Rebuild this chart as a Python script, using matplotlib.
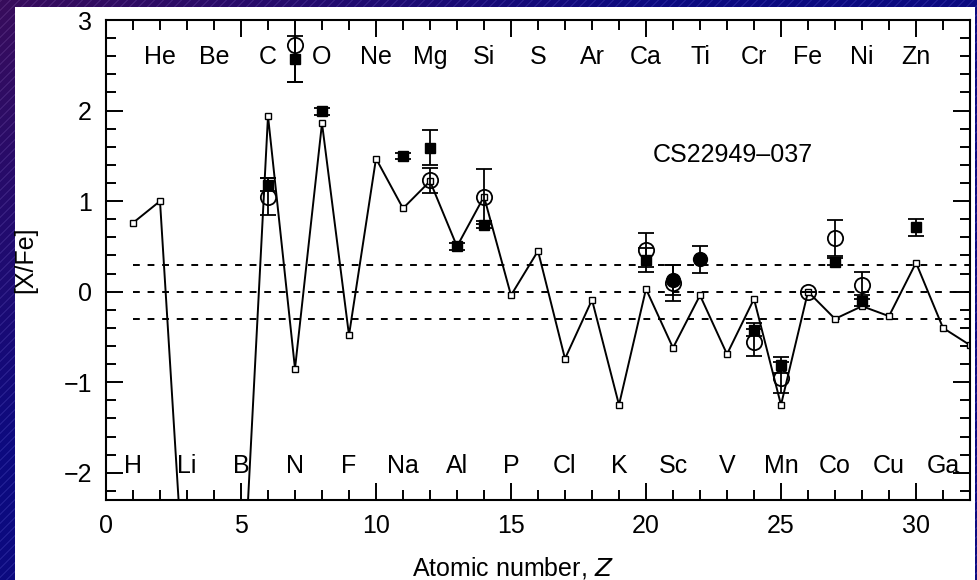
import numpy as np
import matplotlib.pyplot as plt

plt.rcParams['font.family'] = ['Liberation Sans', 'DejaVu Sans']

# model yields, Z = 1..32
model_z = list(range(1, 33))
model_xfe = [0.76, 1.00, -3.8, -4.5, -3.8, 1.94, -0.85, 1.86, -0.48, 1.47,
             0.92, 1.22, 0.50, 1.05, -0.04, 0.45, -0.74, -0.09, -1.25, 0.03,
             -0.62, -0.04, -0.69, -0.08, -1.25, 0.00, -0.30, -0.16, -0.27, 0.32,
             -0.40, -0.59]

# observed abundances: filled squares
sq_z = [6, 7, 8, 11, 12, 13, 14, 20, 24, 25, 27, 28, 30]
sq_xfe = [1.18, 2.57, 1.99, 1.50, 1.59, 0.50, 0.74, 0.35, -0.42, -0.81, 0.33, -0.10, 0.71]
sq_err = [0.07, 0.25, 0.04, 0.03, 0.19, 0.04, 0.04, 0.13, 0.07, 0.09, 0.04, 0.06, 0.09]

# filled circles
fc_z = [21, 22]
fc_xfe = [0.13, 0.36]
fc_err = [0.17, 0.15]

# open circles
oc_z = [6, 7, 12, 14, 20, 21, 24, 25, 26, 27, 28]
oc_xfe = [1.05, 2.72, 1.23, 1.05, 0.46, 0.10, -0.56, -0.95, 0.00, 0.59, 0.07]
oc_err = [0.20, 0.40, 0.14, 0.30, 0.19, 0.20, 0.15, 0.17, 0.00, 0.20, 0.15]

top_labels = ['He', 'Be', 'C', 'O', 'Ne', 'Mg', 'Si', 'S', 'Ar', 'Ca', 'Ti', 'Cr', 'Fe', 'Ni', 'Zn']
top_z = list(range(2, 31, 2))
bot_labels = ['H', 'Li', 'B', 'N', 'F', 'Na', 'Al', 'P', 'Cl', 'K', 'Sc', 'V', 'Mn', 'Co', 'Cu', 'Ga']
bot_z = list(range(1, 32, 2))

ref_levels = [0.3, 0.0, -0.3]

W, H = 977, 580
fig = plt.figure(figsize=(W / 100, H / 100), dpi=100)

# slide background: purple/blue gradient with thin diagonal hatching
yy, xx = np.mgrid[0:H, 0:W]
w = np.clip(1 - np.sqrt((xx / 650.0) ** 2 + (yy / 450.0) ** 2), 0, 1)
purple = np.array([0.22, 0.05, 0.36])
blue = np.array([0.05, 0.04, 0.50])
bg = blue[None, None, :] * (1 - w[..., None]) + purple[None, None, :] * w[..., None]
stripes = ((xx + yy) % 9) < 1.5
bg[stripes] += 0.07
bg = np.clip(bg, 0, 1)
bg[7:, 15:975] = 1.0
bax = fig.add_axes([0, 0, 1, 1])
bax.imshow(bg, aspect='auto', interpolation='nearest')
bax.axis('off')

ax = fig.add_axes([106 / W, 80 / H, 864 / W, 480 / H])
ax.set_facecolor('white')

for lev in ref_levels:
    ax.plot([1, 32], [lev, lev], color='k', lw=1.4, ls=(0, (3.5, 4)), zorder=1)

ax.plot(model_z, model_xfe, color='k', lw=1.4, marker='s', ms=4.5,
        mfc='white', mec='k', mew=1.0, zorder=2)

ax.errorbar(oc_z, oc_xfe, yerr=oc_err, fmt='o', ms=11, mfc='none', mec='k',
            mew=1.3, color='k', elinewidth=1.3, capsize=6, capthick=1.3, zorder=3)
ax.errorbar(sq_z, sq_xfe, yerr=sq_err, fmt='s', ms=7, color='k',
            elinewidth=1.3, capsize=6, capthick=1.3, zorder=4)
ax.errorbar(fc_z, fc_xfe, yerr=fc_err, fmt='o', ms=10, color='k',
            elinewidth=1.3, capsize=6, capthick=1.3, zorder=4)

for z, lab in zip(top_z, top_labels):
    ax.text(z, 2.59, lab, ha='center', va='center', fontsize=18)
for z, lab in zip(bot_z, bot_labels):
    ax.text(z, -1.93, lab, ha='center', va='center', fontsize=18)

ax.text(23.2, 1.51, 'CS22949\u2013037', ha='center', va='center', fontsize=18)

ax.set_xlim(0, 32)
ax.set_ylim(-2.3, 3)
ax.set_xticks(range(0, 31, 5))
ax.set_xticks(range(0, 33), minor=True)
ax.set_yticks(range(-2, 4))
ax.set_yticks(np.arange(-2.2, 3.01, 0.2), minor=True)
ax.set_yticklabels(['\u22122', '\u22121', '0', '1', '2', '3'])
ax.tick_params(which='both', direction='in', top=True, right=True, width=1.4,
               labelsize=18, colors='k')
ax.tick_params(which='major', length=12)
ax.tick_params(which='minor', length=7)
ax.tick_params(axis='y', pad=10)
ax.tick_params(axis='x', pad=10)
for sp in ax.spines.values():
    sp.set_linewidth(1.5)

ax.set_xlabel('Atomic number, $\\it{Z}$', fontsize=18)
ax.xaxis.set_label_coords(0.471, -0.115)
ax.set_ylabel('[X/Fe]', fontsize=18)
ax.yaxis.set_label_coords(-0.079, 0.5)

fig.savefig('out.png', dpi=100)
